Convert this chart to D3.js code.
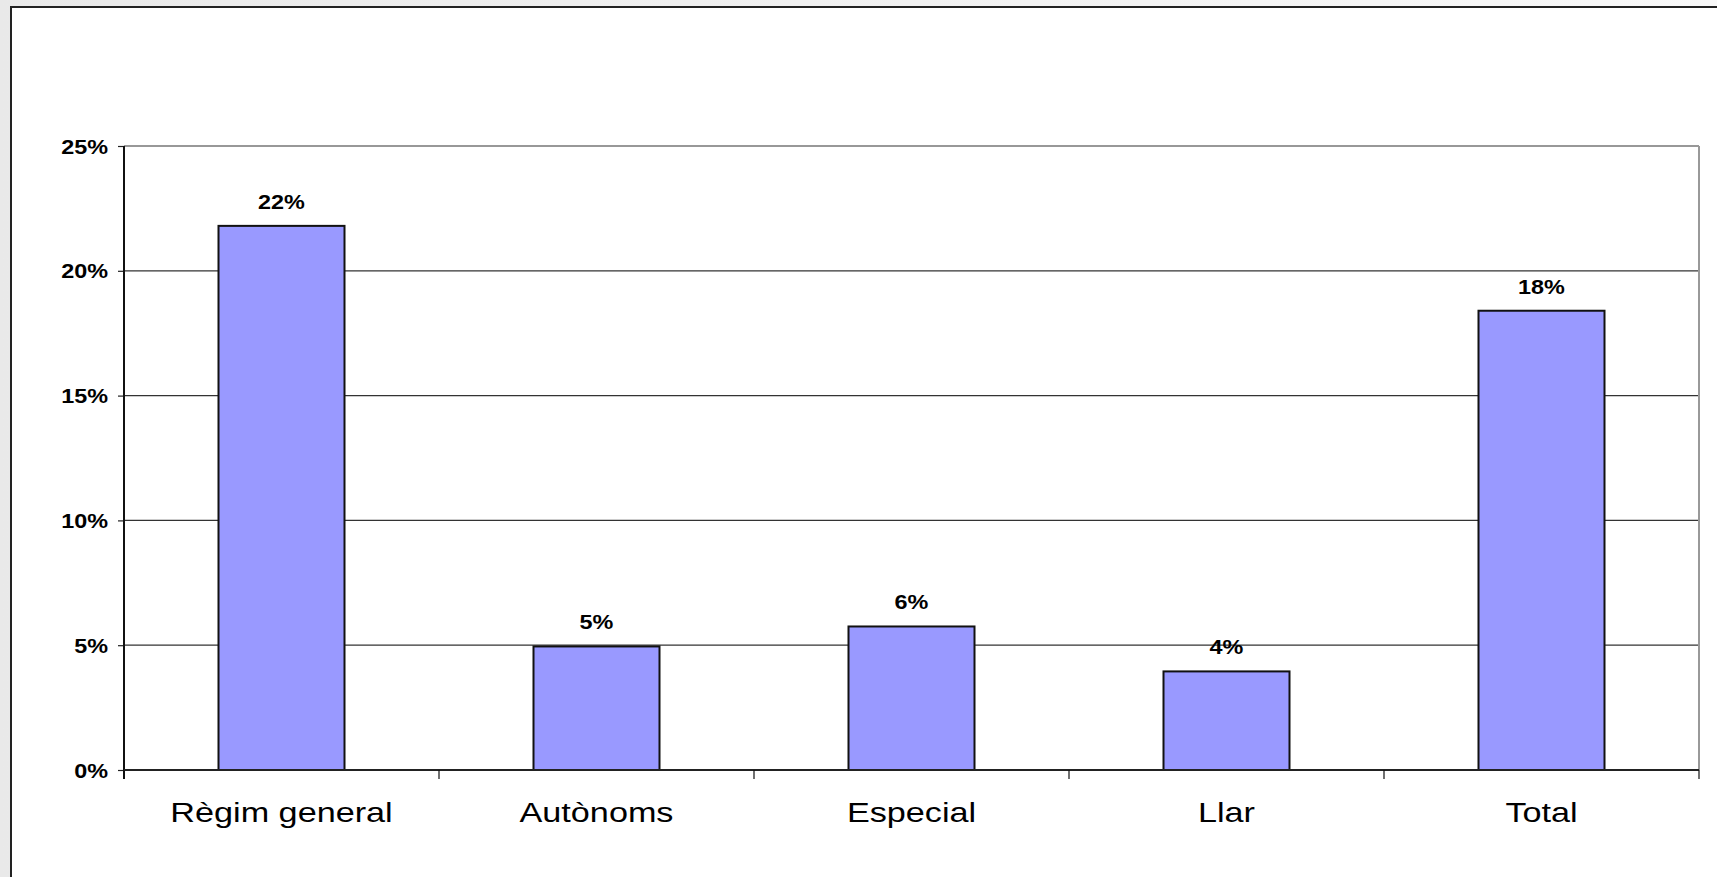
<!DOCTYPE html>
<html>
<head>
<meta charset="utf-8">
<script src="https://cdn.jsdelivr.net/npm/d3@7"></script>
<style>
  html, body { margin: 0; padding: 0; background: #fff; }
  svg { display: block; }
</style>
</head>
<body>
<div id="chart"></div>
<script>
const categories = ["Règim general", "Autònoms", "Especial", "Llar", "Total"];
const values = [21.8, 4.95, 5.75, 3.95, 18.4];
const valueLabels = ["22%", "5%", "6%", "4%", "18%"];
const yTicks = [0, 5, 10, 15, 20, 25];

const W = 1717, H = 877;
const plot = { left: 124, right: 1699, top: 146, bottom: 770 };
const stretch = "scale(1.2,1)"; // the original text is widened horizontally
const font = "'Liberation Sans', Arial, sans-serif";

const svg = d3.select("#chart").append("svg")
  .attr("width", W).attr("height", H);

// light grey page behind the chart frame
const grad = svg.append("defs").append("linearGradient")
  .attr("id", "bg").attr("x1", 0).attr("x2", 1).attr("y1", 0).attr("y2", 0);
grad.append("stop").attr("offset", "0%").attr("stop-color", "#e9e9e9");
grad.append("stop").attr("offset", "100%").attr("stop-color", "#f8f8f8");
svg.append("rect").attr("width", W).attr("height", H).attr("fill", "url(#bg)");

// chart frame (right and bottom edges fall outside the picture)
svg.append("rect")
  .attr("x", 11).attr("y", 7).attr("width", W + 20).attr("height", H + 20)
  .attr("fill", "#fff").attr("stroke", "#222").attr("stroke-width", 2);

const x = d3.scaleBand()
  .domain(categories)
  .range([plot.left, plot.right])
  .paddingInner(0.6)
  .paddingOuter(0.3);

const y = d3.scaleLinear()
  .domain([0, 25])
  .range([plot.bottom, plot.top]);

// gridlines
svg.append("g")
  .selectAll("line")
  .data(yTicks.filter((d) => d > 0))
  .enter()
  .append("line")
  .attr("x1", plot.left).attr("x2", plot.right)
  .attr("y1", (d) => y(d)).attr("y2", (d) => y(d))
  .attr("stroke", "#333").attr("stroke-width", 1.2);

// right border of plot area
svg.append("line")
  .attr("x1", plot.right).attr("x2", plot.right)
  .attr("y1", plot.top).attr("y2", plot.bottom)
  .attr("stroke", "#999").attr("stroke-width", 2);

// bars
svg.selectAll(".bar")
  .data(values)
  .enter()
  .append("rect")
  .attr("class", "bar")
  .attr("x", (d, i) => x(categories[i]))
  .attr("width", x.bandwidth())
  .attr("y", (d) => y(d))
  .attr("height", (d) => y(0) - y(d))
  .attr("fill", "#9999ff")
  .attr("stroke", "#111")
  .attr("stroke-width", 2);

// value labels above bars
svg.selectAll(".bar-label")
  .data(values)
  .enter()
  .append("text")
  .attr("class", "bar-label")
  .attr("transform", (d, i) =>
    `translate(${x(categories[i]) + x.bandwidth() / 2}, ${y(d) - 17}) ${stretch}`)
  .attr("text-anchor", "middle")
  .attr("font-family", font)
  .attr("font-weight", "bold")
  .attr("font-size", "19.5px")
  .attr("fill", "#000")
  .text((d, i) => valueLabels[i]);

// y axis
const yAxis = svg.append("g")
  .attr("transform", `translate(${plot.left},0)`)
  .call(d3.axisLeft(y).tickValues(yTicks).tickSize(6).tickSizeOuter(0)
    .tickFormat((d) => d + "%"));
yAxis.select(".domain").remove();
yAxis.selectAll(".tick line").attr("stroke", "#222").attr("stroke-width", 1.2);
yAxis.selectAll(".tick text")
  .attr("x", null).attr("dy", null)
  .attr("transform", `translate(-16,7) ${stretch}`)
  .attr("text-anchor", "end")
  .attr("font-family", font)
  .attr("font-weight", "bold")
  .attr("font-size", "19.5px")
  .attr("fill", "#000");
svg.append("line")
  .attr("x1", plot.left).attr("x2", plot.left)
  .attr("y1", plot.top).attr("y2", plot.bottom + 9)
  .attr("stroke", "#111").attr("stroke-width", 2);

// x axis: baseline, boundary ticks and category names
const half = (x.step() - x.bandwidth()) / 2;
const boundaries = categories.map((c) => x(c) - half).concat([x(categories[4]) + x.bandwidth() + half]);
svg.append("line")
  .attr("x1", plot.left).attr("x2", plot.right)
  .attr("y1", plot.bottom).attr("y2", plot.bottom)
  .attr("stroke", "#222").attr("stroke-width", 2);
svg.append("g")
  .selectAll("line")
  .data(boundaries)
  .enter()
  .append("line")
  .attr("x1", (d) => d).attr("x2", (d) => d)
  .attr("y1", plot.bottom).attr("y2", plot.bottom + 9)
  .attr("stroke", "#111").attr("stroke-width", 1.2);

svg.append("g")
  .selectAll("text")
  .data(categories)
  .enter()
  .append("text")
  .attr("transform", (d) => `translate(${x(d) + x.bandwidth() / 2}, ${plot.bottom + 52}) ${stretch}`)
  .attr("text-anchor", "middle")
  .attr("font-family", font)
  .attr("font-size", "28.5px")
  .attr("fill", "#000")
  .text((d) => d);
</script>
</body>
</html>
